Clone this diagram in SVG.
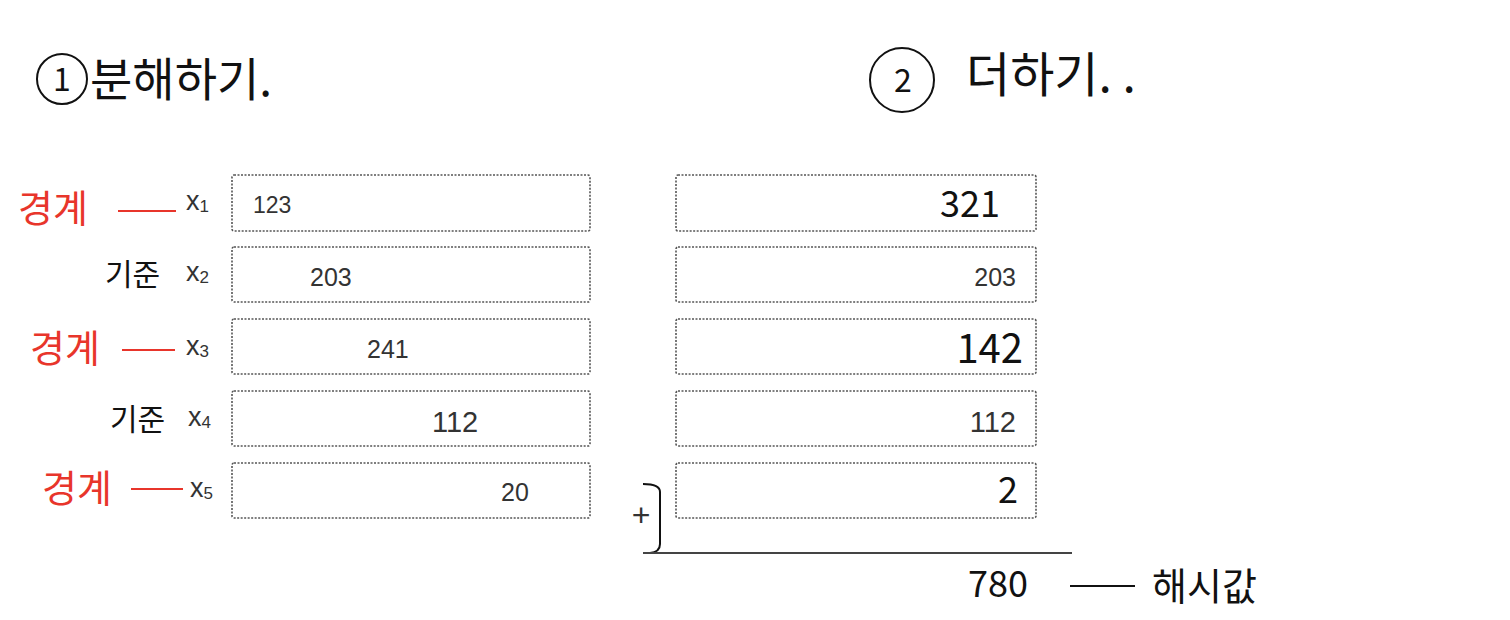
<svg xmlns="http://www.w3.org/2000/svg" width="1510" height="620" viewBox="0 0 1510 620">
<style>
.box{fill:#fff;stroke:#555;stroke-width:1.6;stroke-dasharray:2 1.5}
.num{font-family:"Liberation Sans",Arial,sans-serif;fill:#333}
.var{font-family:"Liberation Sans",Arial,sans-serif;font-size:27px;fill:#333}
.sub{font-size:17px}
.hand{font-family:"Noto Sans CJK KR",sans-serif;fill:#111;font-weight:400}
.red{font-family:"Noto Sans CJK KR",sans-serif;fill:#e8352b;font-weight:400}
.rl{stroke:#e8352b;stroke-width:2.2;fill:none}
.bl{stroke:#111;stroke-width:2;fill:none}
</style>
<rect width="1510" height="620" fill="#fff"/>
<g id="title1">
<circle cx="62" cy="79" r="25" class="bl" stroke-width="2.5"/>
<text x="62" y="91" class="hand" font-size="32" text-anchor="middle">1</text>
<text x="90" y="96" class="hand" font-size="46">분해하기.</text>
</g>
<g id="title2">
<ellipse cx="902" cy="80" rx="32" ry="32" class="bl" stroke-width="2.5"/>
<text x="903" y="92" class="hand" font-size="32" text-anchor="middle">2</text>
<text x="966" y="92" class="hand" font-size="48">더하기. .</text>
</g>
<g id="labels">
<text x="18" y="222" class="red" font-size="38">경계</text>
<text x="105" y="285" class="hand" font-size="30">기준</text>
<text x="30" y="362" class="red" font-size="38">경계</text>
<text x="110" y="430" class="hand" font-size="30">기준</text>
<text x="42" y="502" class="red" font-size="38">경계</text>
</g>
<g id="vars">
<text x="186" y="210" class="var">x<tspan class="sub" dy="2">1</tspan></text>
<text x="186" y="281" class="var">x<tspan class="sub" dy="2">2</tspan></text>
<text x="186" y="355" class="var">x<tspan class="sub" dy="2">3</tspan></text>
<text x="188" y="426" class="var">x<tspan class="sub" dy="2">4</tspan></text>
<text x="190" y="497" class="var">x<tspan class="sub" dy="2">5</tspan></text>
</g>
<g id="connectors">
<line x1="118" y1="211" x2="176" y2="211" class="rl"/>
<line x1="122" y1="350" x2="175" y2="350" class="rl"/>
<line x1="131" y1="489" x2="183" y2="489" class="rl"/>
<path d="M643 484 Q660 484 660 492 L660 544 Q660 552 650 553" class="bl" stroke-width="2"/>
<line x1="643" y1="553" x2="1072" y2="553" stroke="#444" stroke-width="2"/>
<line x1="1070" y1="586" x2="1135" y2="586" class="bl" stroke-width="2.2"/>
</g>
<g id="node-l1"><rect x="232" y="175" width="358" height="56" rx="2" class="box"/><text x="253" y="213" class="num" font-size="23">123</text></g>
<g id="node-l2"><rect x="232" y="247" width="358" height="55" rx="2" class="box"/><text x="310" y="286" class="num" font-size="25">203</text></g>
<g id="node-l3"><rect x="232" y="319" width="358" height="55" rx="2" class="box"/><text x="367" y="358" class="num" font-size="25">241</text></g>
<g id="node-l4"><rect x="232" y="391" width="358" height="55" rx="2" class="box"/><text x="432" y="432" class="num" font-size="29">112</text></g>
<g id="node-l5"><rect x="232" y="463" width="358" height="55" rx="2" class="box"/><text x="501" y="501" class="num" font-size="25">20</text></g>
<g id="node-r1"><rect x="676" y="175" width="360" height="56" rx="2" class="box"/><text x="1000" y="217" class="hand" font-size="36" text-anchor="end">321</text></g>
<g id="node-r2"><rect x="676" y="247" width="360" height="55" rx="2" class="box"/><text x="1016" y="286" class="num" font-size="25" text-anchor="end">203</text></g>
<g id="node-r3"><rect x="676" y="319" width="360" height="55" rx="2" class="box"/><text x="1023" y="363" class="hand" font-size="40" text-anchor="end">142</text></g>
<g id="node-r4"><rect x="676" y="391" width="360" height="55" rx="2" class="box"/><text x="1016" y="432" class="num" font-size="29" text-anchor="end">112</text></g>
<g id="node-r5"><rect x="676" y="463" width="360" height="55" rx="2" class="box"/><text x="1018" y="503" class="hand" font-size="36" text-anchor="end">2</text></g>
<g id="plus"><text x="641" y="526" class="num" font-size="32" text-anchor="middle" fill="#222">+</text></g>
<g id="result"><text x="968" y="597" class="hand" font-size="36">780</text></g>
<g id="hash"><text x="1152" y="600" class="hand" font-size="38">해시값</text></g>
</svg>
